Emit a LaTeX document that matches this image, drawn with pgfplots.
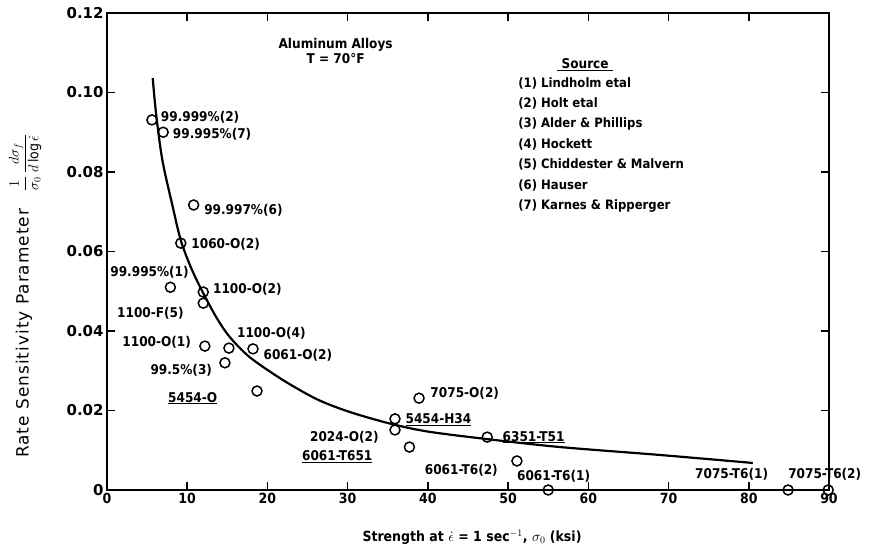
\documentclass[border=0pt]{standalone}
\usepackage{pgfplots}
\pgfplotsset{compat=1.18}
\usepackage{fontspec}
\setmainfont{DejaVu Sans Condensed}
\newfontfamily\widefont[LetterSpace=6]{DejaVu Sans}
\newfontfamily\tickfont{DejaVu Sans}
\newcommand{\lab}{\fontsize{13.5}{15}\selectfont\bfseries}
\begin{document}
\begin{tikzpicture}
\begin{axis}[
  at={(0,0)}, anchor=south west,
  scale only axis, width=722bp, height=477bp,
  xmin=0, xmax=90, ymin=0, ymax=0.12,
  xtick={0,10,20,30,40,50,60,70,80,90},
  ytick={0,0.02,0.04,0.06,0.08,0.10,0.12},
  yticklabels={0,0.02,0.04,0.06,0.08,0.10,0.12},
  tick align=inside, major tick length=8bp,
  axis line style={line width=1.8bp},
  tick style={line width=1.5bp, black},
  xticklabel style={font=\fontsize{14}{16}\selectfont\bfseries},
  yticklabel style={font=\tickfont\fontsize{15}{16}\selectfont\bfseries},
  /pgf/number format/assume math mode=true,
  clip=false,
]
\addplot[smooth, line width=2.2bp, no marks] coordinates {
 (5.7,0.1036) (6.1,0.0950) (6.9,0.0830) (8.2,0.0712) (9.2,0.0628) (10.5,0.0558)
 (12,0.0495) (13.7,0.0432) (15.3,0.0385) (17.8,0.0334) (21.9,0.0277) (26.2,0.0228)
 (30.3,0.0196) (35.3,0.0167) (40,0.0147) (47.4,0.0128) (56.5,0.0108) (69,0.0088) (80.5,0.0068)};
\addplot[only marks, mark=o, mark size=5bp, mark options={line width=1.5bp}] coordinates {
 (5.6,0.0931) (7.0,0.0900) (10.8,0.0717) (9.2,0.0621) (7.9,0.0510) (12.0,0.0498)
 (12.0,0.0470) (12.2,0.0362) (15.2,0.0357) (14.7,0.0320) (18.2,0.0355) (18.7,0.0249)
 (38.9,0.0231) (35.9,0.0179) (35.9,0.0151) (37.7,0.0108) (47.4,0.0133) (51.1,0.0073)
 (55.0,0) (84.9,0) (89.9,0)};
\begin{scope}[every node/.style={font=\lab, anchor=west, inner sep=0pt}]
\node at (axis cs:6.7,0.0938) {99.999\%(2)};
\node at (axis cs:8.2,0.0896) {99.995\%(7)};
\node at (axis cs:12.1,0.0704) {99.997\%(6)};
\node at (axis cs:10.5,0.0619) {1060-O(2)};
\node at (axis cs:0.4,0.0548) {99.995\%(1)};
\node at (axis cs:13.2,0.0506) {1100-O(2)};
\node at (axis cs:1.25,0.0445) {1100-F(5)};
\node at (axis cs:1.9,0.0372) {1100-O(1)};
\node at (axis cs:16.2,0.0395) {1100-O(4)};
\node at (axis cs:19.5,0.0340) {6061-O(2)};
\node at (axis cs:5.4,0.0302) {99.5\%(3)};
\node at (axis cs:7.6,0.0231) {\underline{5454-O}};
\node at (axis cs:40.3,0.0244) {7075-O(2)};
\node at (axis cs:37.2,0.0176) {\underline{5454-H34}};
\node at (axis cs:25.3,0.0133) {2024-O(2)};
\node at (axis cs:24.3,0.0083) {\underline{6061-T651}};
\node at (axis cs:49.3,0.0133) {\underline{6351-T51}};
\node at (axis cs:39.6,0.0050) {6061-T6(2)};
\node at (axis cs:51.1,0.0035) {6061-T6(1)};
\node at (axis cs:73.3,0.0040) {7075-T6(1)};
\node at (axis cs:84.9,0.0040) {7075-T6(2)};
\end{scope}
\node[font=\lab, align=center, anchor=north] at (axis cs:28.5,0.1145) {Aluminum Alloys\\T = 70\textdegree F};
\node[font=\lab] at (axis cs:59.6,0.1069) {\underline{\ Source\ }};
\node[font=\fontsize{13}{20.5}\selectfont\bfseries, align=left, anchor=north west, inner sep=0pt] at (axis cs:51.25,0.1039)
 {(1) Lindholm etal\\(2) Holt etal\\(3) Alder \& Phillips\\(4) Hockett\\(5) Chiddester \& Malvern\\(6) Hauser\\(7) Karnes \& Ripperger};
\node[font=\widefont\fontsize{17}{18}\selectfont, rotate=90] at (axis cs:-10.2,0.0488)
 {Rate Sensitivity Parameter\quad {\fontsize{14}{15}\selectfont$\displaystyle\frac{1}{\sigma_0}\,\frac{d\sigma_f}{d\,\mathrm{log}\,\dot{\epsilon}}$}};
\node[font=\fontsize{14}{16}\selectfont\bfseries] at (axis cs:45.5,-0.0118)
 {Strength at $\dot{\epsilon}$ = 1 sec$^{-1}$, $\sigma_0$ (ksi)};
\end{axis}
\pgfresetboundingbox
\path (-107bp,-63bp) rectangle (766bp,490bp);
\end{tikzpicture}
\end{document}
